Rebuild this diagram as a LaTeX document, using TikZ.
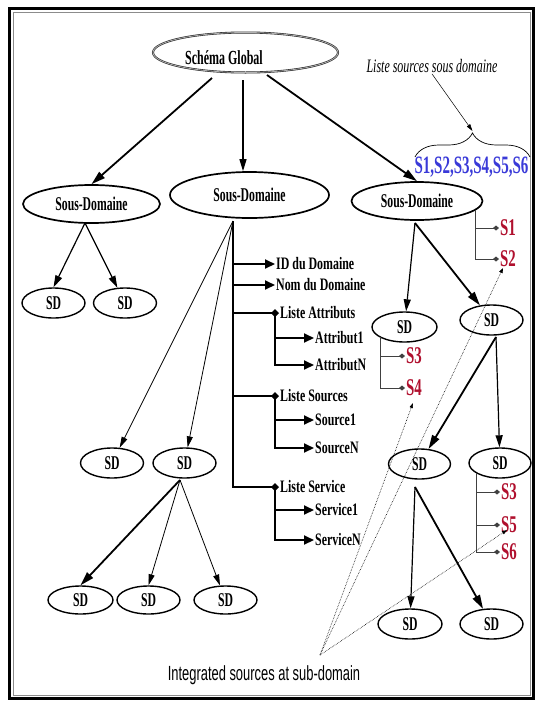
\documentclass[tikz,border=0pt]{standalone}
\usepackage{fontspec}
\usetikzlibrary{arrows.meta,shapes.geometric,decorations.pathreplacing}
\newfontfamily\bcond[FakeStretch=0.6]{Liberation Serif}
\newfontfamily\lcond[FakeStretch=0.68]{Liberation Serif}
\newfontfamily\rcond[FakeStretch=0.62]{Liberation Serif}
\newfontfamily\icond[FakeStretch=0.63]{Liberation Serif}
\newfontfamily\scond[FakeStretch=0.63]{Liberation Sans}
\definecolor{sred}{HTML}{B0102E}
\definecolor{sblue}{HTML}{3A3AD8}
\tikzset{
  ell/.style={ellipse, draw=black, inner sep=0pt, font=\bcond\bfseries\fontsize{19.5}{20}\selectfont},
  sgell/.style={ellipse, draw=black!85, line width=0.6pt, double=black!30, double distance=0.8pt, minimum width=185pt, minimum height=40pt, inner sep=0pt},
  sousdom/.style={ell, line width=1.7pt, minimum height=38pt},
  sdnode/.style={ell, line width=1.4pt, minimum width=63pt, minimum height=30pt},
  listtxt/.style={anchor=west, inner sep=1pt, font=\lcond\bfseries\fontsize{17.5}{18}\selectfont},
  srctxt/.style={anchor=west, inner sep=1pt, text=sred, font=\rcond\bfseries\fontsize{24}{24}\selectfont},
  thickarr/.style={line width=1.8pt, -{Triangle[length=14pt,width=8pt]}},
  medarr/.style={line width=1.2pt, -{Triangle[length=12pt,width=7pt]}},
  thinarr/.style={line width=0.8pt, -{Triangle[length=11pt,width=6pt]}},
  lst/.style={line width=2pt},
  lstarr/.style={lst, -{Triangle[length=10pt,width=9pt]}},
  lstdia/.style={lst, -{Diamond[length=8pt,width=8pt]}},
  srcln/.style={line width=0.8pt, draw=black!75, -{Diamond[length=6pt,width=5pt]}},
  dotln/.style={line width=0.6pt, densely dotted, -{Triangle[length=5pt,width=3.5pt]}},
}
\begin{document}
\begin{tikzpicture}[x=1pt,y=-1pt]
\useasboundingbox (0,0) rectangle (535,702);
% frame
\draw[line width=2.6pt] (9.5,8.5) rectangle (533.5,698.5);
\draw[line width=0.8pt, black!45] (13,12.5) rectangle (530,695);

% top
\node[sgell] (SG) at (245.5,52.5) {};
\node[font=\bcond\bfseries\fontsize{20}{20}\selectfont, inner sep=0pt] (SGt) at (224,58) {Schéma Global};

\node[sousdom, minimum width=137pt] (SDL) at (91.5,204) {Sous-Domaine};
\node[sousdom, minimum width=159pt, minimum height=46pt] (SDM) at (249.5,195) {Sous-Domaine};
\node[sousdom, minimum width=131pt] (SDR) at (417,201) {Sous-Domaine};

% SD nodes
\node[sdnode] (L1) at (53.5,303) {SD};
\node[sdnode] (L2) at (125,303) {SD};
\node[sdnode] (M1) at (112,463) {SD};
\node[sdnode] (M2) at (184.5,463) {SD};
\node[sdnode, minimum width=65pt, minimum height=28pt] (N1) at (80.5,600) {SD};
\node[sdnode, minimum height=28pt] (N2) at (148.5,600) {SD};
\node[sdnode, minimum height=28pt] (N3) at (225.5,600) {SD};
\node[sdnode, minimum width=65pt] (R1) at (404.5,327) {SD};
\node[sdnode] (R2) at (491.5,320) {SD};
\node[sdnode, minimum width=62pt] (R3) at (419.5,464) {SD};
\node[sdnode, minimum width=62pt] (R4) at (500,463) {SD};
\node[sdnode, minimum width=64pt] (R5) at (410,624) {SD};
\node[sdnode] (R6) at (491.5,624) {SD};

% apex coordinates
\coordinate (gA) at (212,78);
\coordinate (gB) at (243,80);
\coordinate (gC) at (267,75);
\coordinate (aL) at (85,223);
\coordinate (aM) at (233,221);
\coordinate (aN) at (180,480);
\coordinate (aR) at (415,223);
\coordinate (aR2) at (496,337);
\coordinate (aR3) at (415,487);

\draw[thickarr] (gA) -- (SDL.north);
\draw[medarr] (gB) -- (gB |- SDM.north);
\draw[thickarr] (gC) -- (SDR.north);
\draw[medarr] (aL) -- (L1.north);
\draw[medarr] (aL) -- (L2);
\draw[thinarr] (aM) -- (M1);
\draw[thinarr] (aM) -- (M2);
\draw[thickarr] (aN) -- (N1.north);
\draw[thinarr] (aN) -- (N2.north);
\draw[thinarr] (aN) -- (N3);
\draw[medarr] (aR) -- (R1);
\draw[thickarr] (aR) -- (R2);
\draw[thickarr] (aR2) -- (R3);
\draw[medarr] (aR2) -- (R4);
\draw[medarr] (aR3) -- (R5);
\draw[thickarr] (aR3) -- (R6);

% list of attributes
\node[listtxt] (ID) at (275,264) {ID du Domaine};
\node[listtxt] (NOM) at (275,285) {Nom du Domaine};
\node[listtxt] (LA) at (279,313) {Liste Attributs};
\node[listtxt] (A1) at (314,338) {Attribut1};
\node[listtxt] (AN) at (314,365) {AttributN};
\node[listtxt] (LS) at (279,396) {Liste Sources};
\node[listtxt] (SO1) at (314,420) {Source1};
\node[listtxt] (SON) at (314,448) {SourceN};
\node[listtxt] (LV) at (279,487) {Liste Service};
\node[listtxt] (V1) at (314,510) {Service1};
\node[listtxt] (VN) at (314,540) {ServiceN};

\draw[lstdia] (aM) |- (LV.west);
\draw[lstarr] (aM |- ID.west) -- (ID.west);
\draw[lstarr] (aM |- NOM.west) -- (NOM.west);
\draw[lstdia] (aM |- LA.west) -- (LA.west);
\draw[lstdia] (aM |- LS.west) -- (LS.west);
\coordinate (xa) at ([xshift=-4pt]LA.west);
\coordinate (xs) at ([xshift=-4pt]LS.west);
\coordinate (xv) at ([xshift=-4pt]LV.west);
\draw[lstarr] (xa) |- (AN.west);
\draw[lstarr] (xa |- A1.west) -- (A1.west);
\draw[lstarr] (xs) |- (SON.west);
\draw[lstarr] (xs |- SO1.west) -- (SO1.west);
\draw[lstarr] (xv) |- (VN.west);
\draw[lstarr] (xv |- V1.west) -- (V1.west);

% red sources
\node[srctxt] (Sa1) at (499,228) {S1};
\node[srctxt] (Sa2) at (499,259) {S2};
\node[srctxt] (Sb3) at (405,356) {S3};
\node[srctxt] (Sb4) at (405,388) {S4};
\node[srctxt] (Sc3) at (500,492) {S3};
\node[srctxt] (Sc5) at (500,525) {S5};
\node[srctxt] (Sc6) at (500,552) {S6};
\coordinate (ra) at (475,210);
\coordinate (rb) at (380,337);
\coordinate (rc) at (476,473);
\draw[srcln] (ra) |- (Sa1.west);
\draw[srcln] (ra) |- (Sa2.west);
\draw[srcln] (rb) |- (Sb3.west);
\draw[srcln] (rb) |- (Sb4.west);
\draw[srcln] (rc) |- (Sc3.west);
\draw[srcln] (rc) |- (Sc5.west);
\draw[srcln] (rc) |- (Sc6.west);

% blue list with brace
\node[text=sblue, font=\bcond\bfseries\fontsize{25}{25}\selectfont, inner sep=0pt] (SL) at (471.5,167) {S1,S2,S3,S4,S5,S6};
\draw[line width=0.7pt, decorate, decoration={brace, amplitude=24pt}] (415,157) -- (530,157);
\coordinate (btip) at (472.5,131);
\node[font=\icond\itshape\fontsize{19}{19}\selectfont, inner sep=1pt] (lss) at (432,66) {Liste sources sous domaine};
\draw[line width=0.5pt, -{Triangle[length=7pt,width=4pt]}] (lss.south) -- (btip);

% integrated sources
\node[font=\scond\fontsize{20.5}{21}\selectfont, inner sep=1pt] (IS) at (264,675) {Integrated sources at sub-domain};
\coordinate (conv) at (320,655);
\coordinate (t4) at (413,403);
\coordinate (t2) at (503,268);
\coordinate (t5) at (507,530);
\draw[dotln] (conv) -- (t4);
\draw[dotln] (conv) -- (t2);
\draw[dotln] (conv) -- (t5);
\end{tikzpicture}
\end{document}
